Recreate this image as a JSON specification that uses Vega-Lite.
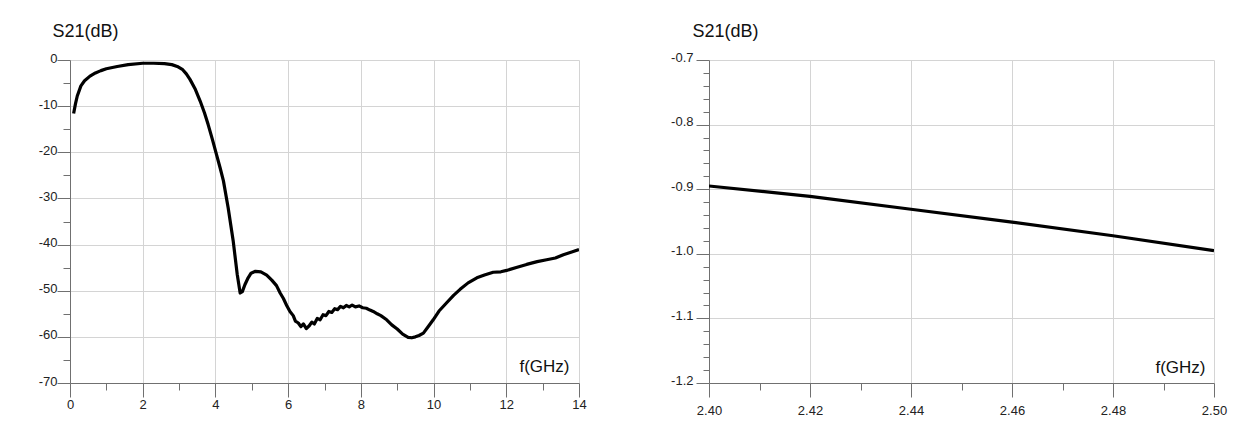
{
  "$schema": "https://vega.github.io/schema/vega-lite/v6.json",
  "background": "white",
  "padding": {"left": 38, "top": 22, "right": 5, "bottom": 5},
  "bounds": "flush",
  "spacing": 130,
  "config": {
    "view": {"stroke": null},
    "font": "Liberation Sans",
    "axis": {
      "domainColor": "#707070",
      "domainWidth": 1,
      "tickColor": "#707070",
      "tickWidth": 1,
      "gridColor": "#d4d4d4",
      "gridWidth": 1,
      "labelColor": "#222222",
      "labelFontSize": 13,
      "labelFont": "Liberation Sans",
      "labelOverlap": false,
      "labelFlush": false,
      "titleColor": "#111111",
      "titleFont": "Liberation Sans",
      "titleFontWeight": "normal"
    }
  },
  "hconcat": [
    {
      "width": 509,
      "height": 323,
      "data": {
        "values": [
          {"f": 0.1, "s": -11.6}, {"f": 0.15, "s": -9.5}, {"f": 0.2, "s": -7.8}, {"f": 0.3, "s": -5.6},
          {"f": 0.4, "s": -4.5}, {"f": 0.55, "s": -3.5}, {"f": 0.7, "s": -2.8}, {"f": 0.85, "s": -2.3},
          {"f": 1.0, "s": -1.9}, {"f": 1.3, "s": -1.4}, {"f": 1.6, "s": -1.0}, {"f": 2.0, "s": -0.7},
          {"f": 2.3, "s": -0.7}, {"f": 2.6, "s": -0.8}, {"f": 2.8, "s": -1.0}, {"f": 2.95, "s": -1.4},
          {"f": 3.1, "s": -2.1}, {"f": 3.2, "s": -3.0}, {"f": 3.3, "s": -4.2}, {"f": 3.45, "s": -6.4},
          {"f": 3.58, "s": -8.9}, {"f": 3.7, "s": -11.5}, {"f": 3.8, "s": -14.0}, {"f": 3.92, "s": -17.3},
          {"f": 4.03, "s": -20.5}, {"f": 4.13, "s": -23.4}, {"f": 4.22, "s": -26.2}, {"f": 4.35, "s": -32.0},
          {"f": 4.49, "s": -39.3}, {"f": 4.6, "s": -46.5}, {"f": 4.68, "s": -50.5}, {"f": 4.74, "s": -50.2},
          {"f": 4.81, "s": -48.7}, {"f": 4.9, "s": -47.2}, {"f": 4.98, "s": -46.2}, {"f": 5.1, "s": -45.8},
          {"f": 5.25, "s": -45.9}, {"f": 5.41, "s": -46.6}, {"f": 5.55, "s": -47.7}, {"f": 5.68, "s": -48.9},
          {"f": 5.78, "s": -50.5}, {"f": 5.87, "s": -51.7}, {"f": 5.96, "s": -53.2}, {"f": 6.05, "s": -54.5},
          {"f": 6.14, "s": -55.4}, {"f": 6.2, "s": -56.6}, {"f": 6.28, "s": -57.0}, {"f": 6.35, "s": -57.8},
          {"f": 6.42, "s": -57.2}, {"f": 6.5, "s": -58.2}, {"f": 6.58, "s": -57.6}, {"f": 6.65, "s": -56.8},
          {"f": 6.72, "s": -57.2}, {"f": 6.8, "s": -56.0}, {"f": 6.88, "s": -56.3}, {"f": 6.96, "s": -55.2},
          {"f": 7.04, "s": -55.4}, {"f": 7.12, "s": -54.5}, {"f": 7.2, "s": -54.7}, {"f": 7.28, "s": -53.9},
          {"f": 7.36, "s": -54.1}, {"f": 7.44, "s": -53.4}, {"f": 7.52, "s": -53.7}, {"f": 7.6, "s": -53.2},
          {"f": 7.68, "s": -53.5}, {"f": 7.76, "s": -53.1}, {"f": 7.85, "s": -53.5}, {"f": 7.95, "s": -53.3},
          {"f": 8.05, "s": -53.7}, {"f": 8.15, "s": -53.8}, {"f": 8.25, "s": -54.2}, {"f": 8.34, "s": -54.5},
          {"f": 8.45, "s": -55.0}, {"f": 8.55, "s": -55.4}, {"f": 8.71, "s": -56.3}, {"f": 8.85, "s": -57.4},
          {"f": 9.0, "s": -58.3}, {"f": 9.15, "s": -59.4}, {"f": 9.3, "s": -60.1}, {"f": 9.4, "s": -60.2},
          {"f": 9.5, "s": -60.0}, {"f": 9.6, "s": -59.7}, {"f": 9.72, "s": -59.2}, {"f": 9.85, "s": -57.8},
          {"f": 9.99, "s": -56.3}, {"f": 10.15, "s": -54.4}, {"f": 10.36, "s": -52.6}, {"f": 10.55, "s": -51.0},
          {"f": 10.73, "s": -49.7}, {"f": 10.95, "s": -48.3}, {"f": 11.19, "s": -47.2}, {"f": 11.4, "s": -46.6},
          {"f": 11.64, "s": -46.0}, {"f": 11.85, "s": -45.9}, {"f": 12.01, "s": -45.6}, {"f": 12.3, "s": -44.9},
          {"f": 12.56, "s": -44.3}, {"f": 12.85, "s": -43.7}, {"f": 13.11, "s": -43.3}, {"f": 13.35, "s": -42.9},
          {"f": 13.57, "s": -42.2}, {"f": 13.8, "s": -41.6}, {"f": 14.0, "s": -41.1}
        ]
      },
      "mark": {"type": "line", "color": "black", "strokeWidth": 3.2, "strokeJoin": "round", "clip": true},
      "encoding": {
        "x": {
          "field": "f", "type": "quantitative",
          "scale": {"domain": [0, 14], "nice": false, "zero": false},
          "axis": {
            "values": [0, 1, 2, 3, 4, 5, 6, 7, 8, 9, 10, 11, 12, 13, 14],
            "labelExpr": "datum.value % 2 == 0 ? datum.label : ''",
            "tickSize": {"condition": {"test": "datum.value % 2 == 0", "value": 14}, "value": 7},
            "gridOpacity": {"condition": {"test": "datum.value % 2 == 0", "value": 1}, "value": 0},
            "labelPadding": 1,
            "title": "f(GHz)",
            "titleFontSize": 17,
            "titleAlign": "right",
            "titleBaseline": "alphabetic",
            "titleX": 499,
            "titleY": -12
          }
        },
        "y": {
          "field": "s", "type": "quantitative",
          "scale": {"domain": [-70, 0], "nice": false, "zero": false},
          "axis": {
            "values": [-70, -65, -60, -55, -50, -45, -40, -35, -30, -25, -20, -15, -10, -5, 0],
            "labelExpr": "datum.value % 10 == 0 ? replace(datum.label, '\u2212', '-') : ''",
            "tickSize": {"condition": {"test": "datum.value % 10 == 0", "value": 13}, "value": 7},
            "gridOpacity": {"condition": {"test": "datum.value % 10 == 0", "value": 1}, "value": 0},
            "labelPadding": 0,
            "labelOffset": -2,
            "title": "S21(dB)",
            "titleFontSize": 18,
            "titleAngle": 0,
            "titleAlign": "left",
            "titleBaseline": "alphabetic",
            "titleX": -18,
            "titleY": -24
          }
        }
      }
    },
    {
      "width": 505,
      "height": 323,
      "data": {
        "values": [
          {"f": 2.40, "s": -0.895}, {"f": 2.42, "s": -0.911}, {"f": 2.44, "s": -0.931},
          {"f": 2.46, "s": -0.951}, {"f": 2.48, "s": -0.972}, {"f": 2.50, "s": -0.995}
        ]
      },
      "mark": {"type": "line", "color": "black", "strokeWidth": 3.2, "strokeJoin": "round", "clip": true},
      "encoding": {
        "x": {
          "field": "f", "type": "quantitative",
          "scale": {"domain": [2.4, 2.5], "nice": false, "zero": false},
          "axis": {
            "values": [2.4, 2.41, 2.42, 2.43, 2.44, 2.45, 2.46, 2.47, 2.48, 2.49, 2.5],
            "labelExpr": "round(datum.value * 100) % 2 == 0 ? format(datum.value, '.2f') : ''",
            "tickSize": {"condition": {"test": "round(datum.value * 100) % 2 == 0", "value": 14}, "value": 7},
            "gridOpacity": {"condition": {"test": "round(datum.value * 100) % 2 == 0", "value": 1}, "value": 0},
            "labelPadding": 7,
            "title": "f(GHz)",
            "titleFontSize": 17,
            "titleAlign": "right",
            "titleBaseline": "alphabetic",
            "titleX": 496,
            "titleY": -11
          }
        },
        "y": {
          "field": "s", "type": "quantitative",
          "scale": {"domain": [-1.2, -0.7], "nice": false, "zero": false},
          "axis": {
            "values": [-1.2, -1.18, -1.16, -1.14, -1.12, -1.1, -1.08, -1.06, -1.04, -1.02, -1.0, -0.98, -0.96, -0.94, -0.92, -0.9, -0.88, -0.86, -0.84, -0.82, -0.8, -0.78, -0.76, -0.74, -0.72, -0.7],
            "labelExpr": "round(datum.value * 100) % 10 == 0 ? replace(format(datum.value, '.1f'), '\u2212', '-') : ''",
            "tickSize": {"condition": {"test": "round(datum.value * 100) % 10 == 0", "value": 13}, "value": 6},
            "gridOpacity": {"condition": {"test": "round(datum.value * 100) % 10 == 0", "value": 1}, "value": 0},
            "labelPadding": 3,
            "labelOffset": -3,
            "title": "S21(dB)",
            "titleFontSize": 18,
            "titleAngle": 0,
            "titleAlign": "left",
            "titleBaseline": "alphabetic",
            "titleX": -17,
            "titleY": -24
          }
        }
      }
    }
  ]
}
